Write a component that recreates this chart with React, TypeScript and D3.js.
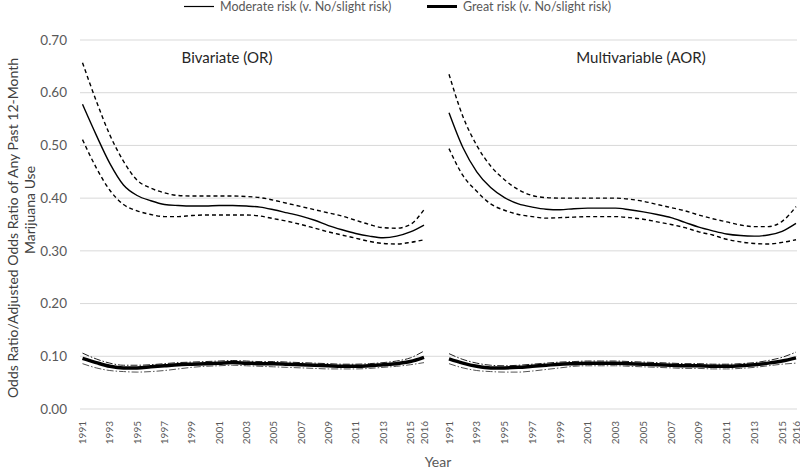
import React from "react";
import * as d3 from "d3";

// ---------- data ----------
const years = [1991, 1992, 1993, 1994, 1995, 1996, 1997, 1998, 1999, 2000, 2001, 2002, 2003,
  2004, 2005, 2006, 2007, 2008, 2009, 2010, 2011, 2012, 2013, 2014, 2015, 2016];
const tickYears = [1991, 1993, 1995, 1997, 1999, 2001, 2003, 2005, 2007, 2009, 2011, 2013, 2015, 2016];
const yTicks = [0, 0.1, 0.2, 0.3, 0.4, 0.5, 0.6, 0.7];
const panelTitles = ["Bivariate (OR)", "Multivariable (AOR)"];
const legendLabels = ["Moderate risk (v. No/slight risk)", "Great risk (v. No/slight risk)"];

// Bivariate (OR) – moderate risk
const moderateOR = [0.578, 0.520, 0.466, 0.425, 0.405, 0.395, 0.388, 0.386, 0.385, 0.385, 0.386, 0.386, 0.385,
  0.383, 0.378, 0.372, 0.366, 0.358, 0.348, 0.340, 0.333, 0.328, 0.325, 0.328, 0.336, 0.349];
const moderateORUpper = [0.657, 0.585, 0.520, 0.470, 0.434, 0.419, 0.410, 0.405, 0.404, 0.404, 0.404, 0.404, 0.403,
  0.401, 0.396, 0.390, 0.384, 0.378, 0.372, 0.366, 0.358, 0.350, 0.344, 0.343, 0.350, 0.378];
const moderateORLower = [0.511, 0.458, 0.415, 0.388, 0.376, 0.369, 0.365, 0.365, 0.367, 0.368, 0.368, 0.368, 0.368,
  0.366, 0.361, 0.356, 0.350, 0.343, 0.336, 0.330, 0.324, 0.318, 0.314, 0.313, 0.316, 0.321];

// Multivariable (AOR) – moderate risk
const moderateAOR = [0.562, 0.496, 0.450, 0.420, 0.401, 0.389, 0.383, 0.379, 0.378, 0.380, 0.381, 0.381, 0.381,
  0.378, 0.374, 0.369, 0.363, 0.354, 0.345, 0.338, 0.332, 0.329, 0.328, 0.330, 0.337, 0.352];
const moderateAORUpper = [0.635, 0.555, 0.500, 0.461, 0.435, 0.416, 0.405, 0.401, 0.400, 0.400, 0.400, 0.400, 0.400,
  0.398, 0.394, 0.388, 0.382, 0.376, 0.368, 0.361, 0.355, 0.349, 0.346, 0.346, 0.356, 0.384];
const moderateAORLower = [0.494, 0.443, 0.413, 0.389, 0.377, 0.369, 0.365, 0.362, 0.363, 0.364, 0.365, 0.365, 0.365,
  0.363, 0.360, 0.355, 0.350, 0.344, 0.336, 0.330, 0.322, 0.317, 0.314, 0.313, 0.316, 0.321];

// Bivariate (OR) – great risk
const greatOR = [0.096, 0.088, 0.081, 0.078, 0.078, 0.080, 0.082, 0.084, 0.085, 0.086, 0.087, 0.088, 0.087,
  0.086, 0.086, 0.085, 0.084, 0.083, 0.082, 0.081, 0.081, 0.082, 0.084, 0.086, 0.090, 0.098];
const greatORUpper = [0.106, 0.095, 0.087, 0.083, 0.083, 0.084, 0.086, 0.088, 0.089, 0.090, 0.091, 0.092, 0.091,
  0.090, 0.090, 0.089, 0.088, 0.087, 0.086, 0.085, 0.085, 0.086, 0.088, 0.091, 0.097, 0.110];
const greatORLower = [0.086, 0.078, 0.073, 0.071, 0.070, 0.071, 0.073, 0.076, 0.079, 0.081, 0.082, 0.083, 0.082,
  0.081, 0.080, 0.079, 0.078, 0.077, 0.076, 0.076, 0.076, 0.077, 0.079, 0.081, 0.084, 0.088];

// Multivariable (AOR) – great risk
const greatAOR = [0.095, 0.087, 0.081, 0.078, 0.078, 0.079, 0.081, 0.083, 0.085, 0.086, 0.087, 0.087, 0.087,
  0.086, 0.085, 0.084, 0.083, 0.082, 0.082, 0.081, 0.081, 0.082, 0.084, 0.087, 0.091, 0.097];
const greatAORUpper = [0.105, 0.094, 0.087, 0.083, 0.082, 0.083, 0.085, 0.087, 0.089, 0.090, 0.091, 0.091, 0.091,
  0.090, 0.089, 0.088, 0.087, 0.086, 0.086, 0.085, 0.085, 0.086, 0.088, 0.092, 0.098, 0.108];
const greatAORLower = [0.086, 0.078, 0.073, 0.071, 0.070, 0.070, 0.072, 0.075, 0.078, 0.081, 0.082, 0.082, 0.082,
  0.081, 0.080, 0.079, 0.078, 0.077, 0.077, 0.076, 0.076, 0.077, 0.079, 0.082, 0.085, 0.087];

const FONT = "Lato, 'Open Sans', sans-serif";

export default function App() {
  const y = d3.scaleLinear().domain([0, 0.7]).range([409, 40]);
  const xScales = [
    d3.scaleLinear().domain([1991, 2016]).range([82.5, 424]),
    d3.scaleLinear().domain([1991, 2016]).range([449, 796]),
  ];
  const plotLeft = 80;
  const plotRight = 797;

  const panelData = [
    { mod: moderateOR, modU: moderateORUpper, modL: moderateORLower, gr: greatOR, grU: greatORUpper, grL: greatORLower },
    { mod: moderateAOR, modU: moderateAORUpper, modL: moderateAORLower, gr: greatAOR, grU: greatAORUpper, grL: greatAORLower },
  ];

  const mkLine = (x: d3.ScaleLinear<number, number>) =>
    d3.line<number>()
      .x((_, i) => x(years[i]))
      .y((d) => y(d))
      .curve(d3.curveMonotoneX);

  return (
    <div style={{ position: "absolute", left: 0, top: 0 }}>
      <svg width={800} height={470} style={{ display: "block", background: "#fff" }} fontFamily={FONT}>
        {/* gridlines */}
        {yTicks.map((t) => (
          <line key={"g" + t} x1={plotLeft} x2={plotRight} y1={y(t)} y2={y(t)} stroke="#d9d9d9" strokeWidth={1} />
        ))}
        {/* y tick labels */}
        {yTicks.map((t) => (
          <text key={"yt" + t} x={67} y={y(t)} dy="0.35em" textAnchor="end" fontSize={13.5} fill="#595959">
            {d3.format(".2f")(t)}
          </text>
        ))}
        {/* y axis title */}
        <text transform={`translate(13,228) rotate(-90)`} textAnchor="middle" dy="0.35em" fontSize={14} fill="#404040">
          Odds Ratio/Adjusted Odds Ratio of Any Past 12-Month
        </text>
        <text transform={`translate(30,210) rotate(-90)`} textAnchor="middle" dy="0.35em" fontSize={14} fill="#404040">
          Marijuana Use
        </text>
        {/* x tick labels */}
        {xScales.map((x, p) =>
          tickYears.map((yr) => (
            <text key={`xt${p}-${yr}`} transform={`translate(${x(yr)},421) rotate(-90)`} textAnchor="end" dy="0.35em"
              fontSize={10} fill="#595959">
              {yr}
            </text>
          ))
        )}
        {/* x axis title */}
        <text x={438} y={467} textAnchor="middle" fontSize={14} fill="#595959">Year</text>
        {/* panel titles */}
        <text x={227} y={63} textAnchor="middle" fontSize={15} fill="#262626">{panelTitles[0]}</text>
        <text x={641} y={63} textAnchor="middle" fontSize={15} fill="#262626">{panelTitles[1]}</text>
        {/* series */}
        {panelData.map((pd, p) => {
          const line = mkLine(xScales[p]);
          return (
            <g key={"p" + p} fill="none">
              <path d={line(pd.modU) || ""} stroke="#000" strokeWidth={1.4} strokeDasharray="4 3" />
              <path d={line(pd.modL) || ""} stroke="#000" strokeWidth={1.4} strokeDasharray="4 3" />
              <path d={line(pd.mod) || ""} stroke="#000" strokeWidth={1.4} />
              <path d={line(pd.grU) || ""} stroke="#222" strokeWidth={1} strokeDasharray="7 2 1.5 2" />
              <path d={line(pd.grL) || ""} stroke="#555" strokeWidth={1} strokeDasharray="7 2 1.5 2" />
              <path d={line(pd.gr) || ""} stroke="#000" strokeWidth={3.5} />
            </g>
          );
        })}
        {/* legend */}
        <line x1={184} x2={214} y1={6.5} y2={6.5} stroke="#000" strokeWidth={1.2} />
        <text x={220} y={11} fontSize={12.5} fill="#595959">{legendLabels[0]}</text>
        <line x1={427} x2={457} y1={6.5} y2={6.5} stroke="#000" strokeWidth={3} />
        <text x={463} y={11} fontSize={12.5} fill="#595959">{legendLabels[1]}</text>
      </svg>
    </div>
  );
}
